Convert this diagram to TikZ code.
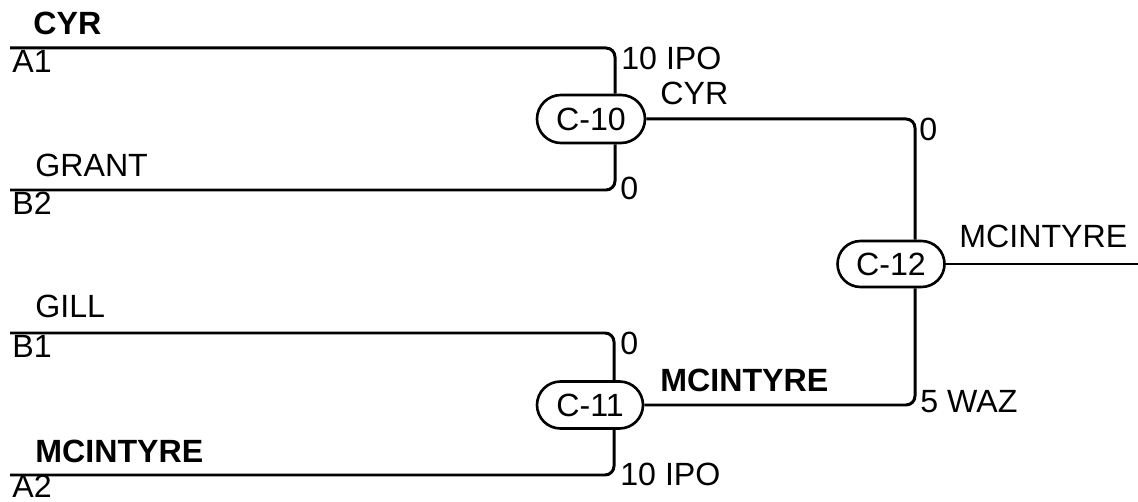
\documentclass[tikz,border=0pt]{standalone}
\usepackage{fontspec}
\setmainfont{Liberation Sans}
\usetikzlibrary{calc, shapes.misc}

\begin{document}
\begin{tikzpicture}[x=0.02cm, y=-0.02cm, font=\fontsize{18.3}{21}\selectfont,
  match/.style={draw, rounded rectangle, line width=1.5pt, inner sep=0pt},
  wire/.style={line width=1.7pt, rounded corners=0.18cm},
  lbl/.style={anchor=base west, inner sep=0pt},
  win/.style={lbl, font=\fontsize{18.3}{21}\selectfont\bfseries}]
\useasboundingbox (0,0) rectangle (1138,502);

%% ===================== matches =====================
\node[match, minimum width=2.16cm, minimum height=0.96cm] (c10) at (591,119) {C-10};
\node[match, minimum width=2.12cm, minimum height=0.94cm] (c11) at (590,405) {C-11};
\node[match, minimum width=2.14cm, minimum height=0.92cm] (c12) at (891,264) {C-12};

%% line starts
\coordinate (a1) at (10,48);
\coordinate (b2) at (10,190);
\coordinate (b1) at (10,333);
\coordinate (a2) at (10,475);
\coordinate (out) at (1138,264);

%% ===================== round one =====================
\draw[wire] (a1) -| ($(c10.north)+(24,0)$);
\draw[wire] (b2) -| ($(c10.south)+(24,0)$);
\draw[wire] (b1) -| ($(c11.north)+(24,0)$);
\draw[wire] (a2) -| ($(c11.south)+(24,0)$);

%% ===================== final =====================
\draw[wire] (c10.east) -| ($(c12.north)+(24,0)$);
\draw[wire] (c11.east) -| ($(c12.south)+(24,0)$);
\draw[wire] (c12.east) -- (out);

%% ===================== names and slots =====================
\node[win] (n-a1) at (33,35) {CYR};
\node[lbl] (s-a1) at (12,73) {A1};
\node[lbl] (n-b2) at (35,177) {GRANT};
\node[lbl] (s-b2) at (12,215) {B2};
\node[lbl] (n-b1) at (35,318) {GILL};
\node[lbl] (s-b1) at (12,358) {B1};
\node[win] (n-a2) at (35,462) {MCINTYRE};
\node[lbl] (s-a2) at (12,498) {A2};

%% ===================== scores and winners =====================
\node[lbl] (p-a1) at (621,70) {10 IPO};
\node[lbl] (p-b2) at (620,200) {0};
\node[lbl] (p-b1) at (620,355) {0};
\node[lbl] (p-a2) at (620,485) {10 IPO};
\node[lbl] (w-c10) at (660,105) {CYR};
\node[win] (w-c11) at (660,392) {MCINTYRE};
\node[lbl] (p-c10) at (919,141) {0};
\node[lbl] (p-c11) at (920,413) {5 WAZ};
\node[lbl] (w-c12) at (959,248) {MCINTYRE};

\end{tikzpicture}
\end{document}
